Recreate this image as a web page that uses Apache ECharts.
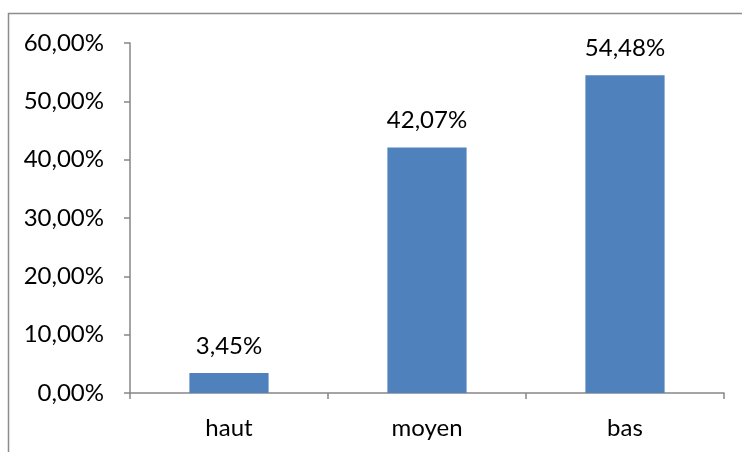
<!DOCTYPE html>
<html><head><meta charset="utf-8">
<script src="https://cdn.jsdelivr.net/npm/echarts@6/dist/echarts.min.js"></script>
<style>html,body{margin:0;padding:0;background:#fff}#c{width:742px;height:452px}</style>
</head><body><div id="c"></div>
<script>
const categories = ['haut', 'moyen', 'bas'];
const values = [3.45, 42.07, 54.48];
const yTicks = [0, 10, 20, 30, 40, 50, 60];

const fmt = v => v.toFixed(2).replace('.', ',') + '%';
const font = 'Lato, "Open Sans", sans-serif';
const chart = echarts.init(document.getElementById('c'));
chart.setOption({
  animation: false,
  backgroundColor: '#fff',
  graphic: [{
    type: 'rect', shape: {x: 8.5, y: 13.5, width: 760, height: 460},
    style: {fill: 'none', stroke: '#8c8c8c', lineWidth: 1.5}, silent: true
  }],
  grid: {left: 130, right: 18, top: 43, bottom: 59},
  xAxis: {
    type: 'category', data: categories,
    axisLine: {lineStyle: {color: '#868686', width: 1.5}},
    axisTick: {show: true, length: 6, lineStyle: {color: '#868686', width: 1.5}},
    axisLabel: {color: '#000', fontFamily: font, fontSize: 24, margin: 23}
  },
  yAxis: {
    type: 'value', min: yTicks[0], max: yTicks[yTicks.length - 1], interval: 10,
    splitLine: {show: false},
    axisLine: {show: true, lineStyle: {color: '#868686', width: 1.5}},
    axisTick: {show: true, length: 6, lineStyle: {color: '#868686', width: 1.5}},
    axisLabel: {color: '#000', fontFamily: font, fontSize: 24, margin: 26, formatter: v => fmt(v)}
  },
  series: [{
    type: 'bar', data: values, barWidth: '40%',
    itemStyle: {color: '#4F81BD'},
    label: {show: true, position: 'top', distance: 15, color: '#000', fontFamily: font, fontSize: 24,
      formatter: p => fmt(p.value)}
  }]
});
</script></body></html>
